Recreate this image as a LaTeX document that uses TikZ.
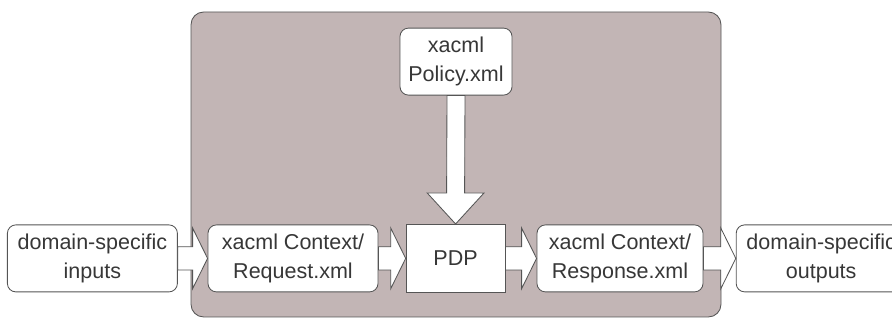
\documentclass[tikz,border=0pt]{standalone}
\usepackage{fontspec}
\setmainfont{Liberation Sans}
\usepackage{tikz}
\usetikzlibrary{calc}
\definecolor{cinzaLinha}{RGB}{85,85,85}
\definecolor{cinzaTexto}{RGB}{55,55,55}
\definecolor{fundoPdp}{RGB}{194,181,181}

% horizontal block arrow from the east side of #1 to the west side of #2
\newcommand{\setaBloco}[2]{%
    \filldraw[blockarrow] ($(#1.east)+(0,0.29)$) -- ($(#2.west)+(-0.375,0.29)$) -- ($(#2.west)+(-0.375,0.76)$)
        -- (#2.west) -- ($(#2.west)+(-0.375,-0.76)$) -- ($(#2.west)+(-0.375,-0.29)$) -- ($(#1.east)+(0,-0.29)$) -- cycle;
}

\begin{document}
\begin{tikzpicture}[
    docbox/.style={draw=cinzaLinha, fill=white, semithick, rounded corners=6pt, minimum width=4.25cm, minimum height=1.675cm, align=center, inner sep=0pt, text=cinzaTexto, font=\fontsize{15.3}{20.7}\selectfont},
    pdpbox/.style={docbox, rounded corners=0pt, minimum width=2.475cm, minimum height=1.7cm},
    blockarrow/.style={draw=cinzaLinha, fill=white, semithick, line join=miter}
]
    \useasboundingbox (0,0) rectangle (22.3,8);
    \draw[cinzaLinha, fill=fundoPdp, semithick, rounded corners=9pt] (4.775,0.075) rectangle (18.025,7.7);

    \node[docbox] (inputs) at (2.31, 1.54) {domain-specific\\inputs};
    \node[docbox] (request) at (7.325, 1.54) {xacml Context/\\Request.xml};
    \node[pdpbox] (pdp) at (11.39, 1.54) {PDP};
    \node[docbox, minimum width=4.15cm] (response) at (15.5, 1.54) {xacml Context/\\Response.xml};
    \node[docbox] (outputs) at (20.53, 1.54) {domain-specific\\outputs};
    \node[docbox, minimum width=2.8cm] (policy) at (11.4, 6.46) {xacml\\Policy.xml};

    \setaBloco{inputs}{request}
    \setaBloco{request}{pdp}
    \setaBloco{pdp}{response}
    \setaBloco{response}{outputs}
    \filldraw[blockarrow] ($(policy.south)+(-0.225,0)$) -- ($(pdp.north)+(-0.225,0.775)$) -- ($(pdp.north)+(-0.71,0.775)$)
        -- (pdp.north) -- ($(pdp.north)+(0.71,0.775)$) -- ($(pdp.north)+(0.225,0.775)$) -- ($(policy.south)+(0.225,0)$) -- cycle;
\end{tikzpicture}
\end{document}
